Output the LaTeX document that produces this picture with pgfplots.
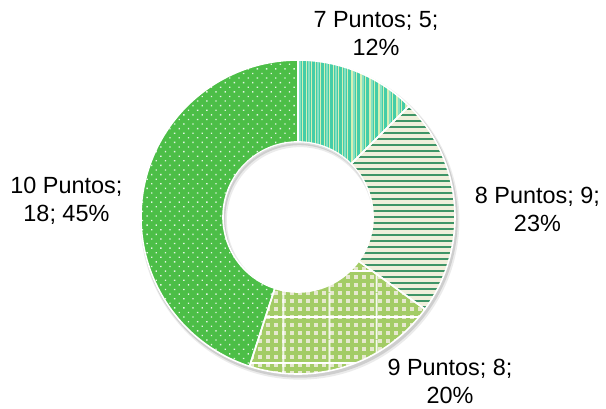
\documentclass[border=0pt]{standalone}
\usepackage{pgfplots}
\pgfplotsset{compat=1.18}
\usepackage{pgfplotstable}
\usepackage{fontspec}
\setmainfont{Liberation Sans}
\usetikzlibrary{patterns.meta}

\definecolor{aqua}{HTML}{45CDA8}
\definecolor{aqualine}{HTML}{D6EFB4}
\definecolor{aqualine2}{HTML}{86E0C2}
\definecolor{dkgreen}{HTML}{3F9567}
\definecolor{cream}{HTML}{F0EFDB}
\definecolor{ging}{HTML}{A3CC66}
\definecolor{gingbase}{HTML}{E6E8CF}
\definecolor{dotgreen}{HTML}{4CBE47}

\pgfplotstableread{
lab val
7 5
8 9
9 8
10 18
}\datatable

\pgfplotstablegetelem{0}{val}\of\datatable \let\va\pgfplotsretval
\pgfplotstablegetelem{1}{val}\of\datatable \let\vb\pgfplotsretval
\pgfplotstablegetelem{2}{val}\of\datatable \let\vc\pgfplotsretval
\pgfplotstablegetelem{3}{val}\of\datatable \let\vd\pgfplotsretval
\pgfmathsetmacro\tot{\va+\vb+\vc+\vd}
\pgfmathsetmacro\aO{90}
\pgfmathsetmacro\aA{\aO-360*\va/\tot}
\pgfmathsetmacro\aB{\aA-360*\vb/\tot}
\pgfmathsetmacro\aC{\aB-360*\vc/\tot}
\pgfmathsetmacro\aD{\aC-360*\vd/\tot}
\def\ri{0.478}

% ring segment between angles #1 and #2
\newcommand\seg[3]{%
  \path[#3] (axis cs:{\ri*cos(#1)},{\ri*sin(#1)}) -- (axis cs:{cos(#1)},{sin(#1)})
    arc[start angle=#1, end angle=#2, radius=157bp]
    -- (axis cs:{\ri*cos(#2)},{\ri*sin(#2)})
    arc[start angle=#2, end angle=#1, radius=75bp] -- cycle;}

\begin{document}
\begin{tikzpicture}
\useasboundingbox (-298bp,-192bp) rectangle (308bp,217bp);
\begin{axis}[at={(0,0)}, anchor=origin, scale only axis,
  width=314bp, height=314bp, xmin=-1, xmax=1, ymin=-1, ymax=1,
  hide axis, clip=false]
% shadow
\fill[black, opacity=0.12, even odd rule] (axis cs:0.008,-0.014) circle[radius=158.5bp] (axis cs:0.008,-0.014) circle[radius=74bp];
\fill[black, opacity=0.08, even odd rule] (axis cs:0.012,-0.02) circle[radius=159.5bp] (axis cs:0.012,-0.02) circle[radius=73bp];
% 7 Puntos: vertical stripes
\begin{scope}
\seg{\aO}{\aA}{clip}
\fill[aqua] (axis cs:-0.05,0) rectangle (axis cs:1,1.05);
\draw[aqualine2, line width=1.5bp] \foreach \k in {0,...,18} {(axis cs:{0.012+\k*0.0573},0) -- (axis cs:{0.012+\k*0.0573},1.05)};
\draw[aqualine, line width=1.1bp] \foreach \k in {0,...,36} {(axis cs:{0.028+\k*0.0287},0) -- (axis cs:{0.028+\k*0.0287},1.05)};
\end{scope}
% 8 Puntos: horizontal stripes
\begin{scope}
\seg{\aA}{\aB}{clip}
\fill[cream] (axis cs:0,-1) rectangle (axis cs:1.05,1);
\draw[dkgreen, line width=2.6bp] \foreach \k in {-27,...,27} {(axis cs:0,{\k*0.0382}) -- (axis cs:1.05,{\k*0.0382})};
\end{scope}
% 9 Puntos: gingham
\seg{\aB}{\aC}{fill=gingbase}
\seg{\aB}{\aC}{pattern={Lines[angle=0,distance=8bp,line width=4bp]}, pattern color=ging, fill opacity=0.68}
\seg{\aB}{\aC}{pattern={Lines[angle=90,distance=8bp,line width=4bp]}, pattern color=ging, fill opacity=0.68}
\seg{\aB}{\aC}{pattern={Lines[angle=0,distance=46bp,line width=1.5bp]}, pattern color=white}
\seg{\aB}{\aC}{pattern={Lines[angle=90,distance=47bp,line width=1.5bp]}, pattern color=white}
% 10 Puntos: dots
\seg{\aC}{\aD}{fill=dotgreen}
\seg{\aC}{\aD}{pattern={Dots[radius=0.95bp,distance=6.5bp,angle=45]}, pattern color=white!85!dotgreen}
% borders
\seg{\aO}{\aA}{draw=white, line width=1.6bp}
\seg{\aA}{\aB}{draw=white, line width=1.6bp}
\seg{\aB}{\aC}{draw=white, line width=1.6bp}
\seg{\aC}{\aD}{draw=white, line width=1.6bp}
\draw[gray!25, line width=1bp] (axis cs:0,0) ++(150:74bp) arc[start angle=150, end angle=30, radius=74bp];
% labels
\tikzset{lbl/.style={align=center, font=\fontsize{23.5}{28}\selectfont, text=black}}
\node[lbl] at (axis cs:0.497,1.168) {7 Puntos; 5;\\12\%};
\node[lbl] at (axis cs:1.525,0.048) {8 Puntos; 9;\\23\%};
\node[lbl] at (axis cs:0.968,-1.048) {9 Puntos; 8;\\20\%};
\node[lbl] at (axis cs:-1.475,0.102) {10 Puntos;\\18; 45\%};
\end{axis}
\end{tikzpicture}
\end{document}
